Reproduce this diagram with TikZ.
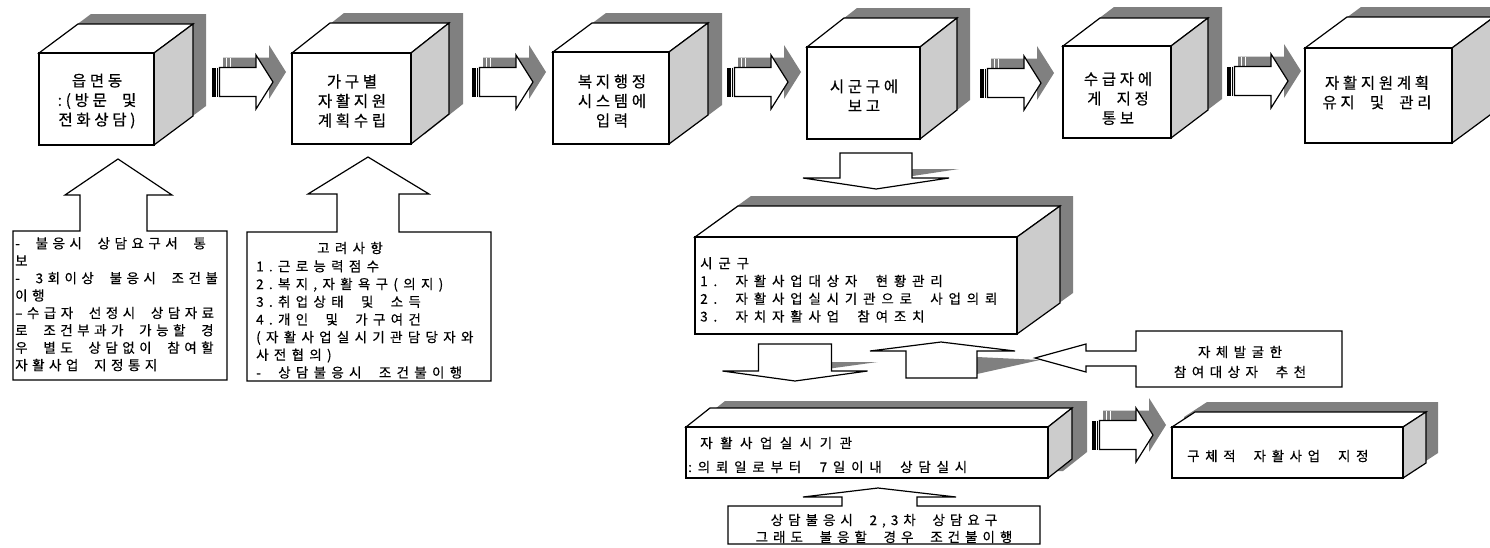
\documentclass[tikz,border=0pt]{standalone}
\usepackage{fontspec}
\setmainfont{Noto Sans CJK KR}
\newfontfamily\kfont[FakeBold=0.4]{Noto Sans CJK KR}
\newcommand{\kf}[2]{\kfont\fontsize{#1}{#2}\selectfont}
\makeatletter
\newdimen\spck \spck=3.5pt
\def\spc@mark{_}
\newcommand{\Ls}[1]{\@tfor\spc@c:=#1\do{\ifx\spc@c\spc@mark\hspace{0.5em}\kern\spck\else\spc@c\kern\spck\fi}\unkern}
\makeatother
\definecolor{shgray}{HTML}{808080}
\definecolor{sidegray}{HTML}{CCCCCC}
\tikzset{
  outl/.style={draw=black,line width=1.2pt,line join=miter},
  ctext/.style={align=center,inner sep=0pt,font={\kf{15.5}{19.5}\spck=3.7pt}},
  btext/.style={align=left,inner sep=0pt,font={\kf{13.5}{17.4}\spck=4.5pt}},
}
% cube: x1 y1 x2 y2 dx dy sx sy
\newcommand{\mycube}[8]{%
  \fill[shgray] ({#1+#7},{#2+#8}) -- ({#1+#5+#7},{#2+#6+#8}) -- ({#3+#5+#7},{#2+#6+#8}) -- ({#3+#5+#7},{#4+#6+#8}) -- ({#3+#7},{#4+#8}) -- ({#1+#7},{#4+#8}) -- cycle;
  \filldraw[fill=white,outl] (#1,#2) -- ({#1+#5},{#2+#6}) -- ({#3+#5},{#2+#6}) -- (#3,#2) -- cycle;
  \filldraw[fill=sidegray,outl] (#3,#2) -- ({#3+#5},{#2+#6}) -- ({#3+#5},{#4+#6}) -- (#3,#4) -- cycle;
  \filldraw[fill=white,outl] (#1,#2) rectangle (#3,#4);
}
% right block arrow: tail x, centre y
\newcommand{\rarr}[2]{%
  \fill[shgray] ({#1+11},{#2-24.5}) -- ({#1+57},{#2-24.5}) -- ({#1+57},{#2-37}) -- ({#1+74},{#2-10}) -- ({#1+57},{#2+17}) -- ({#1+57},{#2+4.5}) -- ({#1+11},{#2+4.5}) -- cycle;
  \draw[white,line width=1pt] ({#1+14},{#2-24.5}) -- ({#1+14},{#2+4}) ({#1+18},{#2-24.5}) -- ({#1+18},{#2+4});
  \fill[black] (#1,{#2-14.5}) rectangle ({#1+3.5},{#2+14.5});
  \draw[line width=1.2pt] ({#1+5.3},{#2-14.5}) -- ({#1+5.3},{#2+14.5});
  \filldraw[fill=white,outl] ({#1+7.5},{#2-14.5}) -- ({#1+44},{#2-14.5}) -- ({#1+44},{#2-27}) -- ({#1+61},{#2}) -- ({#1+44},{#2+27}) -- ({#1+44},{#2+14.5}) -- ({#1+7.5},{#2+14.5}) -- cycle;
}
% flat down arrow: cx top shafthalf headbase headhalf tip
\newcommand{\darr}[6]{%
  \begin{scope}
    \clip ({#1+#3},{#4-20}) rectangle ({#1+#5+20},{#4+1});
    \fill[shgray] ({#1-#5+10},{#4-9}) -- ({#1+#5+10},{#4-9}) -- ({#1+10},{#6-9}) -- cycle;
  \end{scope}
  \filldraw[fill=white,outl] ({#1-#3},#2) -- ({#1+#3},#2) -- ({#1+#3},#4) -- ({#1+#5},#4) -- (#1,#6) -- ({#1-#5},#4) -- ({#1-#3},#4) -- cycle;
}
\begin{document}
\begin{tikzpicture}[x=1pt,y=-1pt]
\useasboundingbox (0,0) rectangle (1490,547);
\clip (0,0) rectangle (1490,547);
\fill[white] (0,0) rectangle (1490,547);

% top row cubes
\mycube{39}{53}{154}{145}{39}{-29}{13}{-10}
\mycube{292}{53}{411}{144}{38}{-30}{14}{-10}
\mycube{553}{52}{669}{144}{39}{-29}{14}{-10}
\mycube{807}{47}{920}{139}{37}{-29}{13}{-10}
\mycube{1063}{46}{1171}{138}{37}{-28}{14}{-11}
\mycube{1305}{48}{1452}{143}{42}{-31}{14}{-10}

\node[ctext] (c1) at (97,101) {\Ls{읍면동}\\\Ls{:(방문_및}\\\Ls{전화상담)}};
\node[ctext] (c2) at (352,101) {\Ls{가구별}\\\Ls{자활지원}\\\Ls{계획수립}};
\node[ctext] (c3) at (612,101) {\Ls{복지행정}\\\Ls{시스템에}\\\Ls{입력}};
\node[ctext] (c4) at (864,95.5) {\Ls{시군구에}\\\Ls{보고}};
\node[ctext] (c5) at (1118,98.5) {\Ls{수급자에}\\\Ls{게_지정}\\\Ls{통보}};
\node[ctext] (c6) at (1377,92.5) {\Ls{자활지원계획}\\\Ls{유지_및_관리}};

% arrows top row
\rarr{212}{82}
\rarr{472}{82}
\rarr{727}{82}
\rarr{980}{83}
\rarr{1227}{81}

% up callouts
\filldraw[fill=white,outl] (13,231) -- (80,231) -- (80,195) -- (65,195) -- (118,159) -- (172,195) -- (147,195) -- (147,231) -- (227,231) -- (227,380) -- (13,380) -- cycle;
\filldraw[fill=white,outl] (247,232) -- (337,232) -- (337,194) -- (308,194) -- (368,157) -- (429,194) -- (399,194) -- (399,232) -- (491,232) -- (491,381) -- (247,381) -- cycle;

\node[btext,anchor=north west] (b1) at (15,237) {\Ls{-_불응시_상담요구서_통}\\\Ls{보}\\\Ls{-_3회이상_불응시_조건불}\\\Ls{이행}\\\Ls{–수급자_선정시_상담자료}\\\Ls{로_조건부과가_가능할_경}\\\Ls{우_별도_상담없이_참여할}\\\Ls{자활사업_지정통지}};
\node[btext,font={\kf{13.5}{17.4}\spck=5.3pt}] (b2t) at (350,248) {\Ls{고려사항}};
\node[btext,anchor=north west,font={\kf{13.5}{17.7}\spck=5.3pt}] (b2) at (256,260) {\Ls{1.근로능력점수}\\\Ls{2.복지,자활욕구(의지)}\\\Ls{3.취업상태_및_소득}\\\Ls{4.개인_및_가구여건}\\\Ls{(자활사업실시기관담당자와}\\\Ls{사전협의)}\\\Ls{-_상담불응시_조건불이행}};

% down arrow from cube 4
\darr{876}{153}{36}{178}{73}{189}

% big box
\mycube{695}{237}{1017}{334}{43}{-31}{13}{-10}
\node[btext,anchor=north west,font={\kf{13.5}{17.7}\spck=5.8pt}] (s1) at (700,257) {\Ls{시군구}\\\Ls{1._자활사업대상자_현황관리}\\\Ls{2._자활사업실시기관으로_사업의뢰}\\\Ls{3._자치자활사업_참여조치}};

% arrows under big box
\darr{795}{344}{36.5}{371}{72.5}{381}
\fill[shgray] (977,357) -- (1040,360) -- (977,374) -- cycle;
\filldraw[fill=white,outl] (906,378) -- (906,351) -- (870,351) -- (941,342) -- (1015,351) -- (977,351) -- (977,378) -- cycle;

% left callout
\filldraw[fill=white,outl] (1136,331) -- (1342,331) -- (1342,387) -- (1136,387) -- (1136,366) -- (1086,366) -- (1086,372) -- (1035,358) -- (1086,344) -- (1086,351) -- (1136,351) -- cycle;
\node[btext,align=center,font={\kf{13.5}{20}\spck=5.5pt}] (r1) at (1240,362) {\Ls{자체발굴한}\\\Ls{참여대상자_추천}};

% lower boxes
\mycube{686}{427}{1048}{478}{24}{-19}{15}{-7}
\node[btext,anchor=west,font={\kf{13.5}{17}\spck=7.5pt}] (l1) at (700,443) {\Ls{자활사업실시기관}};
\node[btext,anchor=west,font={\kf{13.5}{17}\spck=5.8pt}] (l2) at (688,467) {\Ls{:의뢰일로부터_7일이내_상담실시}};

\rarr{1092}{435}

\mycube{1172}{427}{1403}{478}{23}{-15}{12}{-10}
\node[btext,anchor=west,font={\kf{13.5}{17}\spck=5.6pt}] (g1) at (1187,456) {\Ls{구체적_자활사업_지정}};

% bottom up callout
\filldraw[fill=white,outl] (728,506) -- (842,506) -- (842,497) -- (803,497) -- (878,488) -- (956,497) -- (917,497) -- (917,506) -- (1040,506) -- (1040,544) -- (728,544) -- cycle;
\node[btext,align=center,font={\kf{13.5}{17}\spck=5pt}] (u1) at (884,528.5) {\Ls{상담불응시_2,3차_상담요구}\\\Ls{그래도_불응할_경우_조건불이행}};
\end{tikzpicture}
\end{document}
